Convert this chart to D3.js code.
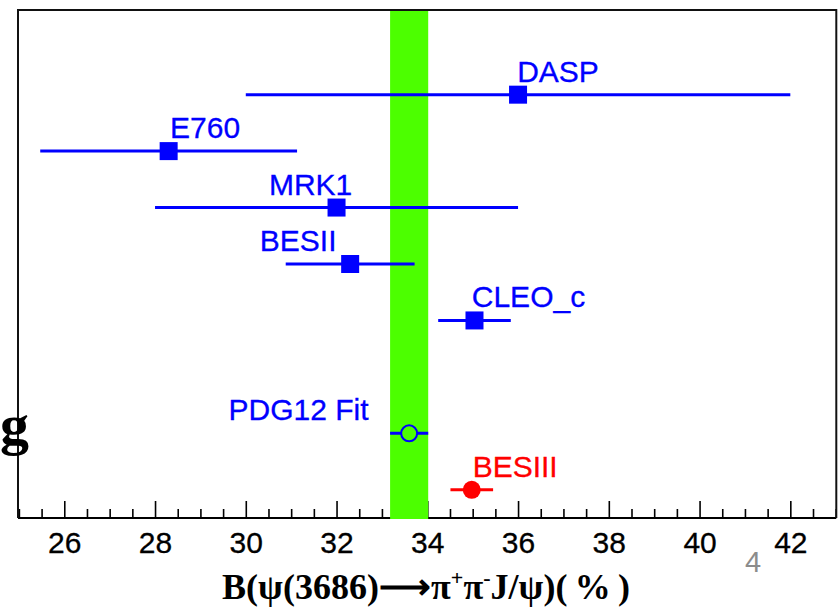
<!DOCTYPE html>
<html><head><meta charset="utf-8">
<script src="https://cdn.jsdelivr.net/npm/d3@7"></script>
<style>body{margin:0;background:#fff;overflow:hidden}</style>
</head><body>
<script>
// ---- data ----
const experiments = ["DASP", "E760", "MRK1", "BESII", "CLEO_c", "PDG12 Fit", "BESIII"];
const values      = [36.0, 28.3, 32.0, 32.3, 35.04, 33.6, 34.98];
const errors      = [6.0, 2.83, 4.0, 1.42, 0.8, 0.42, 0.47];
const rows        = [8, 7, 6, 5, 4, 2, 1];
const labelX      = [35.98, 28.33, 30.51, 30.31, 34.98, 29.62, 35.0];
const markerKinds = ["square", "square", "square", "square", "square", "openCircle", "circle"];
const seriesColor = ["blue", "blue", "blue", "blue", "blue", "blue", "red"];
const fitBand     = [33.18, 34.02];
const xTicks      = [26, 28, 30, 32, 34, 36, 38, 40, 42];
const xTitle      = ["B(\u03C8(3686)\u27F6\u03C0", "+", "\u03C0", "-", "J/\u03C8)(\u2009%\u2009)"];

// ---- layout ----
const W = 838, H = 608;
const colors = {blue: "#0000ff", red: "#ff0000"};
const svg = d3.select("body").append("svg").attr("width", W).attr("height", H);

const x = d3.scaleLinear().domain([25, 43]).range([18.9, 835.7]);
const y = d3.scaleLinear().domain([0.5, 9.5]).range([518, 10]);

const frameL = 18, frameR = 836.3, frameT = 10, frameB = 518;

// bottom axis line + ticks
const minor = d3.range(25, 43.001, 0.5).filter(v => !xTicks.includes(v));
const gMinor = svg.append("g").attr("transform", `translate(0,${frameB})`)
  .call(d3.axisBottom(x).tickValues(minor).tickSize(-9).tickFormat(""));
gMinor.select(".domain").remove();
gMinor.selectAll("line").attr("stroke", "#000").attr("stroke-width", 1.6);

const gMajor = svg.append("g").attr("transform", `translate(0,${frameB})`)
  .call(d3.axisBottom(x).tickValues(xTicks).tickSize(-17).tickPadding(14).tickFormat(d3.format("d")));
gMajor.select(".domain").remove();
gMajor.selectAll("line").attr("stroke", "#000").attr("stroke-width", 1.6);
gMajor.selectAll("text").attr("font-family", "Liberation Sans, Arial, sans-serif")
  .attr("font-size", 30).attr("fill", "#000").attr("stroke", "#000").attr("stroke-width", 0.3);

svg.append("line").attr("x1", frameL).attr("x2", frameR).attr("y1", frameB).attr("y2", frameB)
  .attr("stroke", "#000").attr("stroke-width", 2);

// green fit band
svg.append("rect")
  .attr("x", x(fitBand[0])).attr("width", x(fitBand[1]) - x(fitBand[0]))
  .attr("y", frameT).attr("height", frameB - frameT + 1)
  .attr("fill", "#4cff00");

// frame top/left/right
svg.append("path")
  .attr("d", `M${frameL},${frameB}V${frameT}H${frameR}V${frameB}`)
  .attr("fill", "none").attr("stroke", "#111").attr("stroke-width", 2);

// data
const data = experiments.map((name, i) => ({
  name, v: values[i], e: errors[i], row: rows[i], lx: labelX[i],
  kind: markerKinds[i], color: colors[seriesColor[i]]
}));

const pts = svg.append("g").selectAll("g").data(data).join("g");
pts.append("line")
  .attr("x1", d => x(d.v - d.e)).attr("x2", d => x(d.v + d.e))
  .attr("y1", d => y(d.row)).attr("y2", d => y(d.row))
  .attr("stroke", d => d.color).attr("stroke-width", 3);

pts.filter(d => d.kind === "square").append("rect")
  .attr("x", d => x(d.v) - 9).attr("y", d => y(d.row) - 9)
  .attr("width", 18).attr("height", 18).attr("fill", d => d.color);

pts.filter(d => d.kind === "circle").append("circle")
  .attr("cx", d => x(d.v)).attr("cy", d => y(d.row)).attr("r", 9)
  .attr("fill", d => d.color);

pts.filter(d => d.kind === "openCircle").append("circle")
  .attr("cx", d => x(d.v)).attr("cy", d => y(d.row)).attr("r", 8)
  .attr("fill", "#4cff00").attr("stroke", d => d.color).attr("stroke-width", 2);

pts.append("text")
  .attr("x", d => x(d.lx)).attr("y", d => y(d.row) - 13)
  .attr("font-family", "Liberation Sans, Arial, sans-serif").attr("font-size", 30)
  .attr("fill", d => d.color).attr("stroke", d => d.color).attr("stroke-width", 0.3)
  .text(d => d.name);

// axis title
const t = svg.append("text").attr("x", 222).attr("y", 599)
  .attr("font-family", "Liberation Serif, Times New Roman, serif").attr("font-weight", "bold")
  .attr("font-size", 36).attr("fill", "#000")
  .attr("textLength", 408).attr("lengthAdjust", "spacing");
t.append("tspan").text(xTitle[0]);
t.append("tspan").attr("font-size", 22).attr("dy", -14).text(xTitle[1]);
t.append("tspan").attr("dy", 14).text(xTitle[2]);
t.append("tspan").attr("font-size", 22).attr("dy", -14).text(xTitle[3]);
t.append("tspan").attr("dy", 14).text(xTitle[4]);

// slide page number
svg.append("text").attr("x", 745).attr("y", 572)
  .attr("font-family", "Liberation Sans, Arial, sans-serif").attr("font-size", 29)
  .attr("fill", "#8c8c8c").text("4");

// cut-off slide text fragment
svg.append("text").attr("x", 0).attr("y", 444)
  .attr("font-family", "Liberation Serif, Times New Roman, serif").attr("font-weight", "bold")
  .attr("font-size", 58).attr("fill", "#000").text("g");
</script>
</body></html>
